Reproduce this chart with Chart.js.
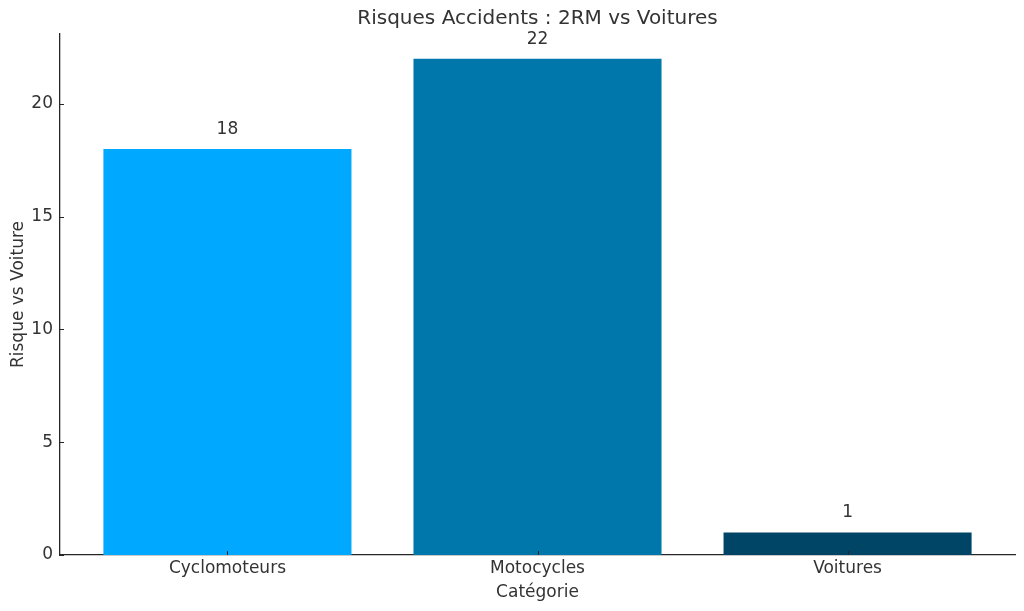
<!DOCTYPE html>
<html>
<head>
<meta charset="utf-8">
<script src="https://cdn.jsdelivr.net/npm/chart.js@4"></script>
<style>
  html, body { margin: 0; padding: 0; background: #fff; }
  #wrap { width: 1024px; height: 611px; }
</style>
</head>
<body>
<div id="wrap"><canvas id="mainChart" width="1024" height="611"></canvas></div>
<script>
// Data
const categories = ['Cyclomoteurs', 'Motocycles', 'Voitures'];
const risques = [18, 22, 1];
const barColors = ['#00A8FF', '#0077AA', '#004466'];
const yTicks = [0, 5, 10, 15, 20];

const chartTitle = 'Risques Accidents : 2RM vs Voitures';
const xTitle = 'Catégorie';
const yTitle = 'Risque vs Voiture';

const textColor = '#333333';
const font = 'DejaVu Sans';

// Extra drawing: title, value labels, inward ticks
const extras = {
  id: 'extras',
  afterDraw(chart) {
    const { ctx, chartArea, scales } = chart;
    ctx.save();
    ctx.fillStyle = textColor;
    ctx.font = `20px "${font}"`;
    ctx.textAlign = 'center';
    ctx.textBaseline = 'middle';
    ctx.fillText(chartTitle, (chartArea.left + chartArea.right) / 2, 19);

    ctx.font = `17px "${font}"`;
    ctx.textBaseline = 'bottom';
    const meta = chart.getDatasetMeta(0);
    meta.data.forEach((bar, i) => {
      ctx.fillText(String(risques[i]), bar.x, bar.y - 11);
    });

    // inward tick marks
    ctx.strokeStyle = '#262626';
    ctx.lineWidth = 1;
    yTicks.forEach(v => {
      const y = Math.round(scales.y.getPixelForValue(v)) + 0.5;
      ctx.beginPath();
      ctx.moveTo(chartArea.left, y);
      ctx.lineTo(chartArea.left + 4, y);
      ctx.stroke();
    });
    categories.forEach((c, i) => {
      const x = Math.round(scales.x.getPixelForValue(i)) + 0.5;
      ctx.beginPath();
      ctx.moveTo(x, chartArea.bottom);
      ctx.lineTo(x, chartArea.bottom - 4);
      ctx.stroke();
    });
    ctx.restore();
  }
};

new Chart(document.getElementById('mainChart').getContext('2d'), {
  type: 'bar',
  data: {
    datasets: [{
      data: categories.map((c, i) => ({ x: i, y: risques[i] })),
      backgroundColor: barColors,
      borderWidth: 0,
      categoryPercentage: 1,
      barPercentage: 0.8
    }]
  },
  options: {
    responsive: false,
    devicePixelRatio: 1,
    animation: false,
    layout: { padding: { top: 34, right: 9, left: 0, bottom: 0 } },
    plugins: {
      legend: { display: false },
      tooltip: { enabled: false }
    },
    scales: {
      x: {
        type: 'linear',
        offset: false,
        min: -0.54,
        max: 2.54,
        afterBuildTicks: axis => { axis.ticks = categories.map((c, i) => ({ value: i })); },
        afterFit: axis => { axis.height = 56; },
        grid: { display: false, drawTicks: false },
        border: { display: true, color: '#262626', width: 1.3 },
        ticks: {
          color: textColor,
          font: { family: font, size: 17 },
          padding: 3,
          autoSkip: false,
          maxRotation: 0,
          callback: v => categories[v] ?? ''
        },
        title: {
          display: true,
          text: xTitle,
          color: textColor,
          font: { family: font, size: 17 },
          padding: { top: 4, bottom: 8 }
        }
      },
      y: {
        min: 0,
        max: 23.1,
        afterBuildTicks: axis => { axis.ticks = yTicks.map(v => ({ value: v })); },
        afterFit: axis => { axis.width = 60; },
        grid: { display: false, drawTicks: false },
        border: { display: true, color: '#262626', width: 1.3 },
        ticks: {
          color: textColor,
          font: { family: font, size: 17 },
          padding: 7
        },
        title: {
          display: true,
          text: yTitle,
          color: textColor,
          font: { family: font, size: 17 },
          padding: { top: 8, bottom: 0 }
        }
      }
    }
  },
  plugins: [extras]
});
</script>
</body>
</html>
